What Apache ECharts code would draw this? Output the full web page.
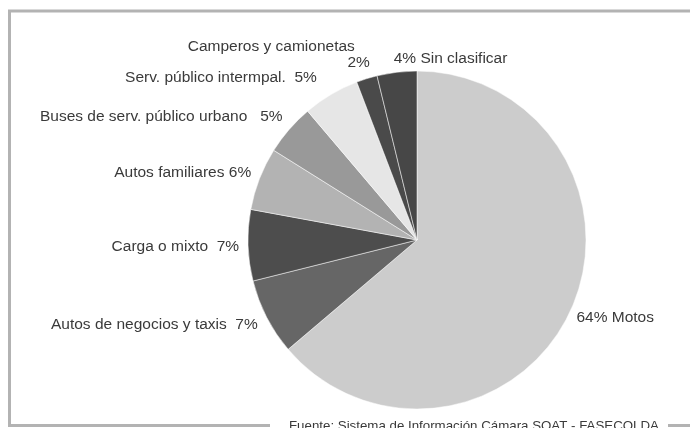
<!DOCTYPE html>
<html>
<head>
<meta charset="utf-8">
<script src="https://cdn.jsdelivr.net/npm/echarts@6/dist/echarts.min.js"></script>
<style>
html,body{margin:0;padding:0;background:#fff;}
#chart{width:690px;height:428px;}
</style>
</head>
<body>
<div id="chart"></div>
<script>
// Data (share of vehicles, %)
var categories = [
  'Motos',
  'Autos de negocios y taxis',
  'Carga o mixto',
  'Autos familiares',
  'Buses de serv. público urbano',
  'Serv. público intermpal.',
  'Camperos y camionetas',
  'Sin clasificar'
];
var values = [63.8, 7.3, 6.8, 6.0, 4.9, 5.4, 2.0, 3.8];
var colors = ['#cccccc', '#666666', '#4d4d4d', '#b3b3b3', '#999999', '#e6e6e6', '#4a4a4a', '#474747'];
var sourceText = 'Fuente: Sistema de Información Cámara SOAT - FASECOLDA';

var FONT = '"Liberation Sans", Arial, sans-serif';
var TEXT_COLOR = '#3a3a3a';
var FS = 15.5;

// small label nudges (dx, dy) per slice, plus alignment
var nudges = [
  {dx: -8, dy: 3},
  {dx: 5, dy: 3},
  {dx: 6, dy: 1},
  {dx: 6, dy: -2},
  {dx: 6, dy: -6},
  {dx: -4, dy: -8},
  {dx: 11, dy: -14},
  {dx: 3, dy: -4, align: 'left'}
];
// separators between name and percentage
var gaps = [' ', '  ', '  ', ' ', '   ', '  ', '', ' '];

var pieData = categories.map(function (name, i) {
  return {name: name, value: values[i], itemStyle: {color: colors[i]}};
});

var chart = echarts.init(document.getElementById('chart'), null, {renderer: 'canvas'});
chart.setOption({
  backgroundColor: '#ffffff',
  animation: false,
  textStyle: {fontFamily: FONT},
  series: [{
    type: 'pie',
    center: [417, 240],
    radius: 169,
    startAngle: 90,
    clockwise: true,
    avoidLabelOverlap: false,
    data: pieData,
    itemStyle: {borderColor: '#ffffff', borderWidth: 0.5},
    label: {
      show: true,
      position: 'outside',
      fontFamily: FONT,
      fontSize: FS,
      color: TEXT_COLOR,
      formatter: function (p) {
        var pct = Math.round(p.percent) + '%';
        var i = p.dataIndex;
        if (i === 0 || i === 7) return pct + gaps[i] + p.name;
        if (i === 6) return '{n|' + p.name + '}\n{p|' + pct + '}';
        return p.name + gaps[i] + pct;
      },
      rich: {
        n: {fontFamily: FONT, fontSize: FS, color: TEXT_COLOR, align: 'right', padding: [0, 15, 0, 0], lineHeight: 16},
        p: {fontFamily: FONT, fontSize: FS, color: TEXT_COLOR, align: 'right', lineHeight: 16}
      }
    },
    labelLine: {show: false, length: 10, length2: 0},
    emphasis: {disabled: true}
  }],
  graphic: [
    {
      type: 'polyline',
      shape: {points: [[270, 425.5], [9.5, 425.5], [9.5, 11], [690, 11]]},
      style: {stroke: '#b3b3b3', lineWidth: 3, fill: null}
    },
    {
      type: 'line',
      shape: {x1: 668, y1: 425.5, x2: 690, y2: 425.5},
      style: {stroke: '#b3b3b3', lineWidth: 3}
    },
    {
      type: 'text',
      left: 289,
      top: 420,
      style: {text: sourceText, font: '13.3px ' + FONT, fill: TEXT_COLOR}
    }
  ]
});
chart.setOption({
  series: [{
    labelLayout: function (params) {
      var n = nudges[params.dataIndex];
      var out = {dx: n.dx, dy: n.dy};
      if (n.align) out.align = n.align;
      return out;
    }
  }]
});
</script>
</body>
</html>
